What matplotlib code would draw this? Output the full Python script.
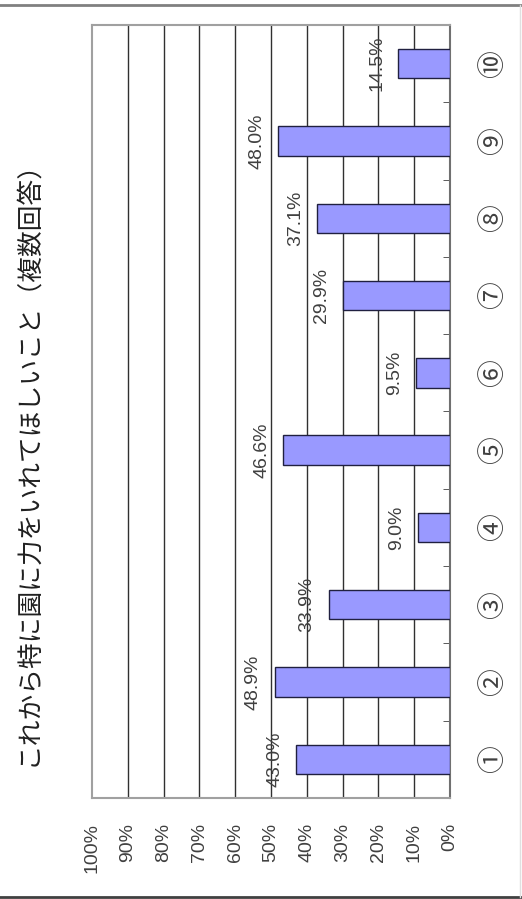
import numpy as np
import matplotlib.pyplot as plt
from matplotlib.lines import Line2D

plt.rcParams['font.family'] = ['Noto Sans CJK JP', 'DejaVu Sans']

# データ
categories = ['①', '②', '③', '④', '⑤', '⑥', '⑦', '⑧', '⑨', '⑩']
values = [43.0, 48.9, 33.9, 9.0, 46.6, 9.5, 29.9, 37.1, 48.0, 14.5]
ticks = [0, 10, 20, 30, 40, 50, 60, 70, 80, 90, 100]
title = 'これから特に園に力をいれてほしいこと（複数回答）'

fig = plt.figure(figsize=(5.22, 8.99), dpi=100)
# plot area: x 92..450, y 25..798 (pixels)
W, H = 522, 899
ax = fig.add_axes([92 / W, 1 - 798 / H, (450 - 92) / W, (798 - 25) / H])

pos = np.arange(len(categories))
ax.barh(pos, values, height=0.38, color='#9999ff', edgecolor='#202040', linewidth=1, zorder=3)

ax.set_xlim(100, 0)
ax.set_ylim(-0.5, len(categories) - 0.5)

# lignes de grille
for t in ticks[1:-1]:
    ax.axvline(t, color='#303030', linewidth=1, zorder=1)

for s in ['left', 'top', 'bottom']:
    ax.spines[s].set_color('#a0a0a0')
    ax.spines[s].set_linewidth(1.5)
ax.spines['right'].set_color('#707070')
ax.spines['right'].set_linewidth(1.5)

ax.yaxis.tick_right()
ax.set_yticks(pos)
ax.set_yticklabels(categories, rotation=90, fontsize=20, va='center', color='#404040')
ax.tick_params(axis='y', which='major', length=0, pad=20)
ax.set_yticks(pos[:-1] + 0.5, minor=True)
ax.tick_params(axis='y', which='minor', direction='in', length=5, color='#404040')

ax.set_xticks(ticks)
ax.set_xticklabels([f'{t}%' for t in ticks], rotation=90, fontsize=14,
                   color='#404040', family=['Liberation Sans', 'DejaVu Sans'])
ax.tick_params(axis='x', length=0, pad=18)

# étiquettes des valeurs
for p, v in zip(pos, values):
    ax.text(v + 6, p, f'{v:.1f}%', rotation=90, ha='center', va='center',
            fontsize=14, color='#404040', family=['Liberation Sans', 'DejaVu Sans'], zorder=4)

fig.text(28 / W, 1 - 457 / H, title, rotation=90, ha='center', va='center',
         fontsize=18.5, color='#202020')

# cadre
fig.add_artist(Line2D([0, 1], [1 - 5 / H, 1 - 5 / H], color='#808080', linewidth=2))
fig.add_artist(Line2D([0, 1], [1 - 897 / H, 1 - 897 / H], color='#404040', linewidth=2))
fig.add_artist(Line2D([520 / W, 520 / W], [1 - 5 / H, 1 - 897 / H], color='#e0e0e0', linewidth=1))

fig.savefig('out.png', dpi=100)
